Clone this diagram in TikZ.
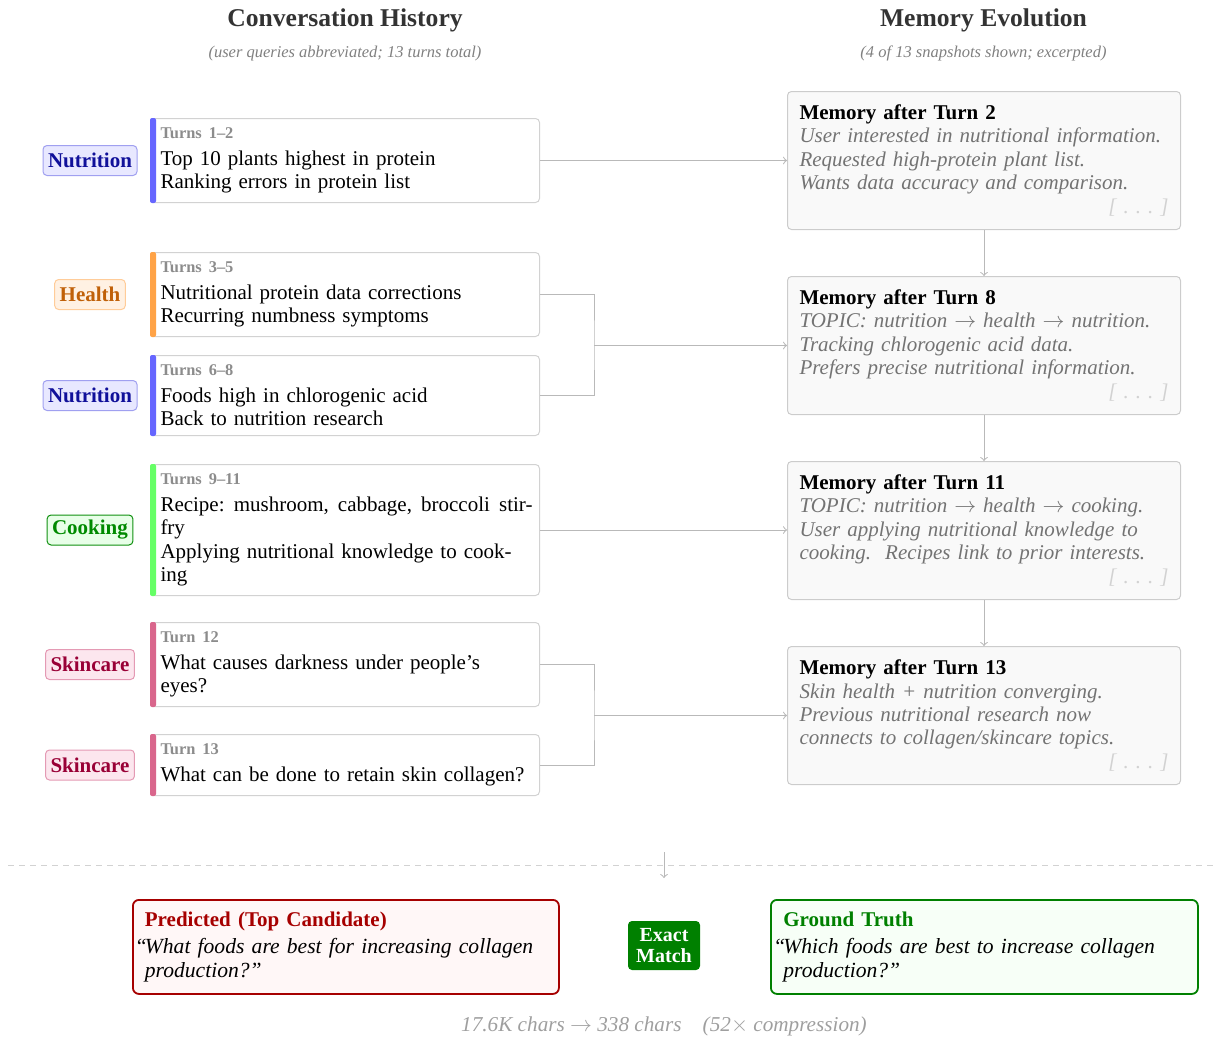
\documentclass[tikz,border=0pt]{standalone}
\usepackage{fontspec}
\setmainfont{Liberation Serif}
\usepackage{amsmath}
\usepackage{tikz}
\usetikzlibrary{positioning}

% topic colours
\definecolor{nutfill}{HTML}{E8E8FF}
\definecolor{nutdraw}{HTML}{A0A0F0}
\definecolor{nuttext}{HTML}{10109A}
\definecolor{nutbar}{HTML}{6666FF}
\definecolor{hltfill}{HTML}{FFF1E3}
\definecolor{hltdraw}{HTML}{FFCC99}
\definecolor{hlttext}{HTML}{C06008}
\definecolor{hltbar}{HTML}{FFA347}
\definecolor{cokfill}{HTML}{E8FFE8}
\definecolor{cokdraw}{HTML}{109010}
\definecolor{coktext}{HTML}{008A00}
\definecolor{cokbar}{HTML}{66FF66}
\definecolor{skifill}{HTML}{FCE6EE}
\definecolor{skidraw}{HTML}{E49AB4}
\definecolor{skitext}{HTML}{990036}
\definecolor{skibar}{HTML}{D9668C}

\newcommand{\turnlbl}[1]{{\fontsize{8.2}{9}\selectfont\bfseries\color{black!45}#1}}
\newcommand{\memhead}[1]{{\upshape\bfseries\color{black}\fontsize{10.5}{11.75}\selectfont #1}}
\newcommand{\memmore}{\hspace*{\fill}{\color{gray!35}[\ .\ .\ .\ ]}}

\begin{document}
\begin{tikzpicture}[
        x=0.5pt, y=-0.5pt,
        tag/.style={rounded corners=2pt, line width=0.5pt, inner xsep=2.5pt, inner ysep=0pt,
            minimum height=15pt, font=\fontsize{10.5}{12}\selectfont\bfseries},
        turn/.style={draw=gray!35, fill=white, line width=0.5pt, rounded corners=2pt,
            anchor=north west, minimum width=194.5pt, text width=184.5pt, inner xsep=5pt,
            inner ysep=0pt, align=left, font=\fontsize{10.5}{11.75}\selectfont},
        mem/.style={draw=gray!40, fill=gray!5, line width=0.5pt, rounded corners=2pt,
            anchor=north west, minimum width=196.5pt, minimum height=69pt, text width=184.5pt,
            inner xsep=5.5pt, inner ysep=0pt, align=left, text=black!55,
            font=\fontsize{10.5}{11.75}\selectfont\itshape},
        result/.style={rounded corners=3pt, line width=0.9pt, anchor=north west,
            minimum height=47pt, text width=201pt, inner xsep=6pt, align=left,
            font=\fontsize{10.8}{11.75}\selectfont},
        link/.style={draw=gray!55, line width=0.5pt},
        arr/.style={link, ->}
    ]
    \useasboundingbox (0,0) rectangle (1215,1039);

    % column headings
    \node[anchor=base, text=black!80, font=\fontsize{12.8}{15}\selectfont\bfseries] (hconv) at (345,26) {Conversation History};
    \node[anchor=base, text=gray, font=\fontsize{8.25}{10}\selectfont\itshape] (sconv) at (345,57) {(user queries abbreviated; 13 turns total)};
    \node[anchor=base, text=black!80, font=\fontsize{12.8}{15}\selectfont\bfseries] (hmem) at (983.5,26) {Memory Evolution};
    \node[anchor=base, text=gray, font=\fontsize{8.25}{10}\selectfont\itshape] (smem) at (983.5,57) {(4 of 13 snapshots shown; excerpted)};

    % conversation turns
    \node[turn, minimum height=42pt] (t1) at (150,118) {\turnlbl{Turns 1--2}\\[1.5pt]
        Top 10 plants highest in protein\\ Ranking errors in protein list};
    \node[turn, minimum height=42pt] (t2) at (150,252) {\turnlbl{Turns 3--5}\\[1.5pt]
        Nutritional protein data corrections\\ Recurring numbness symptoms};
    \node[turn, minimum height=40pt] (t3) at (150,355) {\turnlbl{Turns 6--8}\\[1.5pt]
        Foods high in chlorogenic acid\\ Back to nutrition research};
    \node[turn, minimum height=65.5pt] (t4) at (150,464) {\turnlbl{Turns 9--11}\\[1.5pt]
        \leavevmode\hbox to 186pt{Recipe:\hfill mushroom,\hfill cabbage,\hfill broccoli\hfill stir-}\\ fry\\
        Applying nutritional knowledge to cook-\\ ing};
    \node[turn, minimum height=42pt] (t5) at (150,622) {\turnlbl{Turn 12}\\[1.5pt]
        What causes darkness under people’s\\ eyes?};
    \node[turn, minimum height=30.5pt] (t6) at (150,734) {\turnlbl{Turn 13}\\[1.5pt]
        What can be done to retain skin collagen?};

    % topic bars
    \foreach \t/\c in {t1/nutbar, t2/hltbar, t3/nutbar, t4/cokbar, t5/skibar, t6/skibar}
        \fill[\c, rounded corners=1pt] (\t.north west) rectangle ([xshift=3pt]\t.south west);

    % topic tags
    \node[tag, fill=nutfill, draw=nutdraw, text=nuttext] (g1) at (90,0 |- t1.west) {Nutrition};
    \node[tag, fill=hltfill, draw=hltdraw, text=hlttext] (g2) at (90,0 |- t2.west) {Health};
    \node[tag, fill=nutfill, draw=nutdraw, text=nuttext] (g3) at (90,0 |- t3.west) {Nutrition};
    \node[tag, fill=cokfill, draw=cokdraw, text=coktext] (g4) at (90,0 |- t4.west) {Cooking};
    \node[tag, fill=skifill, draw=skidraw, text=skitext] (g5) at (90,0 |- t5.west) {Skincare};
    \node[tag, fill=skifill, draw=skidraw, text=skitext] (g6) at (90,0 |- t6.west) {Skincare};

    % memory snapshots
    \node[mem] (m1) at (787,91) {\memhead{Memory after Turn 2}\\
        User interested in nutritional information.\\ Requested high-protein plant list.\\
        Wants data accuracy and comparison.\\ \memmore};
    \node[mem] (m2) at (787,276) {\memhead{Memory after Turn 8}\\
        TOPIC: nutrition $\rightarrow$ health $\rightarrow$ nutrition.\\ Tracking chlorogenic acid data.\\
        Prefers precise nutritional information.\\ \memmore};
    \node[mem] (m3) at (787,461) {\memhead{Memory after Turn 11}\\
        TOPIC: nutrition $\rightarrow$ health $\rightarrow$ cooking.\\ User applying nutritional knowledge to\\
        cooking.\ \ Recipes link to prior interests.\\ \memmore};
    \node[mem] (m4) at (787,646) {\memhead{Memory after Turn 13}\\
        Skin health + nutrition converging.\\ Previous nutritional research now\\
        connects to collagen/skincare topics.\\ \memmore};

    % turns -> memory
    \coordinate (j2) at (594,0 |- m2.west);
    \coordinate (j4) at (594,0 |- m4.west);
    \draw[arr] (t1.east) -- (t1.east -| m1.west);
    \draw[link] (t2.east) -| (j2) |- (t3.east);
    \draw[arr] (j2) -- (m2.west);
    \draw[arr] (t4.east) -- (t4.east -| m3.west);
    \draw[link] (t5.east) -| (j4) |- (t6.east);
    \draw[arr] (j4) -- (m4.west);

    % memory chain
    \draw[arr] (m1) -- (m2);
    \draw[arr] (m2) -- (m3);
    \draw[arr] (m3) -- (m4);

    % separator
    \draw[gray!35, line width=0.5pt, dash pattern=on 3pt off 2.5pt] (8,865) -- (1215,865);
    \coordinate (s1) at (664,852);
    \coordinate (s2) at (664,878);
    \draw[arr] (s1) -- (s2);

    % prediction vs. ground truth
    \node[result, draw=red!65!black, fill=red!3, minimum width=213pt] (pred) at (132,899) {%
        {\fontsize{10.5}{11.75}\selectfont\bfseries\color{red!65!black}Predicted (Top Candidate)}\\[2pt]
        \leavevmode\itshape\llap{“\kern-1pt}What foods are best for increasing collagen\\ production?”};
    \node[result, draw=green!50!black, fill=green!3, minimum width=213.5pt] (truth) at (770,899) {%
        {\fontsize{10.5}{11.75}\selectfont\bfseries\color{green!50!black}Ground Truth}\\[2pt]
        \leavevmode\itshape\llap{“\kern-1pt}Which foods are best to increase collagen\\ production?”};
    \node[fill=green!50!black, text=white, rounded corners=2pt, align=center, inner sep=0pt,
        minimum width=36pt, minimum height=24.5pt, font=\fontsize{10}{10.5}\selectfont\bfseries]
        (match) at (664,945.5) {Exact\\Match};

    \node[anchor=base, text=gray!75, font=\fontsize{10.6}{12}\selectfont\itshape] (stat) at (664,1031)
        {17.6K chars $\rightarrow$ 338 chars\quad(52$\times$ compression)};
\end{tikzpicture}
\end{document}
